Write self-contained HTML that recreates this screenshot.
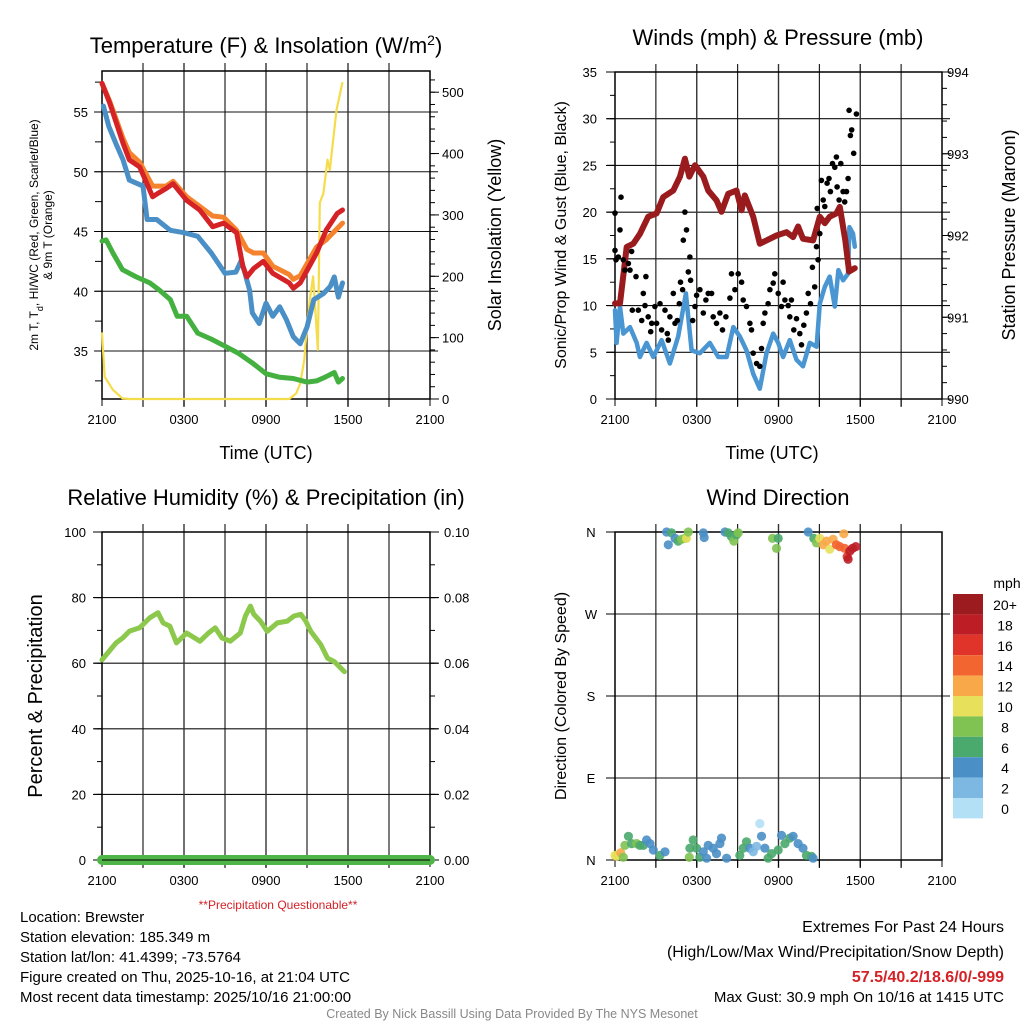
<!DOCTYPE html>
<html><head><meta charset="utf-8"><title>Brewster Meteogram</title>
<style>
html,body{margin:0;padding:0;background:#fff;}
svg{display:block;font-family:"Liberation Sans",Arial,sans-serif;}
</style></head>
<body>
<svg id="chart" width="1024" height="1024" viewBox="0 0 1024 1024" xmlns="http://www.w3.org/2000/svg">
<rect x="0" y="0" width="1024" height="1024" fill="#fff"/>
<g id="layer"></g>
</svg>
<script>
// ---------- DATA (hours since 2100 UTC) ----------
const xTickLabels = ["2100","0300","0900","1500","2100"];
// Temperature panel
const tempHours = [0,0.56,1.54,2.0,2.76,3.7,4.1,4.7,5.2,6.2,7.15,8.1,8.9,9.85,10.3,10.6,11.1,11.8,12.5,13.7,14.0,14.5,15.7,16.4,17.2,17.6];
const tempValues = [57.4,55.75,52.4,51,50.4,47.9,48.2,48.6,49.0,47.6,46.8,45.4,45.7,44.9,42.1,41.2,41.9,42.5,41.5,40.7,40.25,40.7,43.2,45.1,46.5,46.8];
const t9Hours = [0,0.56,1.54,2.0,2.76,3.7,4.7,5.2,6.2,7.15,8.1,8.9,9.85,10.6,11.1,11.8,12.5,13.7,14.0,14.5,15.7,16.4,17.6];
const t9Values = [57.4,55.9,52.8,51.6,50.8,48.8,48.8,49.2,47.9,47.1,46.3,46.2,45.1,43.5,43.2,43.2,42.1,41.4,41.0,41.3,43.7,44.3,45.7];
const hiwcHours = [0.1,0.5,1.0,1.54,2.0,3.0,3.3,4,5,6,7,8,9,9.8,10.2,10.8,11.0,11.5,12,12.5,13,13.5,14,14.5,15,15.5,16.2,16.7,17,17.3,17.6];
const hiwcValues = [55.5,53.8,52.4,51,49.3,48.8,46,46,45.1,44.9,44.6,43.2,41.5,41.6,42.6,40.1,38.2,37.3,39.0,37.9,38.7,37.6,36.2,35.6,37.0,39.3,39.8,40.4,41.2,39.5,40.7];
const dewHours = [0,0.3,0.8,1.5,2.5,3.5,4.2,5,5.5,6.2,7,8,9,10,11,12,13,14,15,15.7,16.3,17,17.3,17.6];
const dewValues = [44.2,44.3,43.2,41.8,41.2,40.7,40.1,39.3,37.9,37.9,36.5,36.0,35.4,34.8,34.0,33.1,32.8,32.7,32.4,32.5,32.8,33.2,32.4,32.7];
const solarHours = [0,0.2,0.8,1.5,2,13.7,14.2,14.5,14.8,15.0,15.2,15.45,15.8,15.94,16.2,16.5,16.67,17.16,17.58];
const solarValues = [107,36,15,1,0,0,9,25,64,120,160,200,80,320,335,390,373,471,515];
// Wind / pressure panel
const presHours = [0,0.37,0.86,1.34,1.83,2.44,3.05,3.54,4.28,4.77,5.13,5.45,5.87,6.48,6.84,7.45,7.82,8.31,8.92,9.29,9.53,10.14,10.63,11.12,11.85,12.59,13.07,13.44,13.8,14.54,15.03,15.4,15.76,16.25,16.5,16.9,17.18,17.6];
const presValues = [991.17,991.17,991.86,991.9,992.02,992.23,992.27,992.47,992.55,992.72,992.94,992.72,992.86,992.72,992.55,992.43,992.29,992.51,992.55,992.31,992.49,992.23,991.9,991.94,992.0,992.04,991.98,992.11,991.96,991.94,992.23,992.15,992.23,992.27,992.35,991.94,991.56,991.6];
const windHours = [0,0.12,0.37,0.61,1.1,1.59,1.83,2.32,2.81,3.42,4.03,4.64,5.2,5.62,6.23,6.96,7.58,8.19,8.68,9.16,9.65,10.14,10.63,11.12,11.61,11.98,12.34,12.83,13.32,13.8,14.3,14.8,15.03,15.4,15.76,16.13,16.4,16.74,17.1,17.2,17.47,17.6];
const windValues = [9.5,6.0,9.9,7.0,7.7,6.0,4.5,6.0,4.5,6.3,3.8,6.7,11.3,5.2,4.9,6.0,4.5,4.5,7.7,6.7,5.2,2.7,1.1,4.9,7.0,6.0,4.5,6.3,4.2,3.5,6.0,5.6,10.2,12.0,13.1,9.9,13.8,12.7,13.4,18.4,17.7,16.3];
const gustHours = [0,0,0.07,0.24,0.37,0.44,0.61,0.73,0.98,1.1,1.22,1.54,1.27,1.71,1.96,2.08,2.2,2.27,2.44,2.62,2.69,2.93,3.05,3.3,3.42,3.67,3.84,3.91,4.03,4.28,4.4,4.57,4.72,4.81,4.96,5.01,5.13,5.25,5.38,5.5,5.55,5.7,5.87,5.99,6.23,6.48,6.67,6.84,7.09,7.21,7.45,7.7,7.89,8.14,8.43,8.55,8.8,9.04,9.29,9.41,9.65,9.9,10.02,10.14,10.39,10.63,10.75,10.88,11.0,11.24,11.37,11.61,11.73,11.98,12.22,12.34,12.47,12.71,12.83,12.95,13.12,13.32,13.56,13.69,13.86,14.05,14.18,14.35,14.49,14.66,14.79,14.91,14.84,15.03,15.15,15.28,15.4,15.57,15.71,15.81,15.96,16.13,16.25,16.3,16.45,16.57,16.74,16.86,16.99,17.11,17.18,17.28,17.37,17.52,17.72];
const gustValues = [19.9,15.9,14.9,15.2,18.1,21.6,14.9,13.8,14.5,13.8,15.8,13.1,9.5,9.5,8.4,11.3,10.0,13.1,8.8,7.2,8.1,9.9,8.1,10.2,7.4,9.5,7.0,6.3,8.8,11.3,8.1,8.4,10.2,12.5,11.7,17.0,20.0,18.1,13.6,15.2,12.7,8.4,9.9,11.1,11.7,9.2,10.6,11.3,11.3,8.8,8.1,9.2,7.4,8.8,10.8,13.4,11.7,13.4,12.5,10.6,9.9,8.1,7.4,4.9,3.8,3.5,5.4,8.1,9.2,10.2,11.7,12.4,13.4,11.3,9.9,12.5,10.6,10.0,8.8,10.6,7.4,8.6,7.0,5.8,7.9,9.2,11.3,10.2,14.1,12.0,16.3,14.9,20.4,17.7,23.4,21.3,20.6,23.1,23.6,22.2,25.2,24.8,25.9,22.7,21.3,25.2,22.2,21.1,22.2,23.6,30.9,28.2,28.8,26.3,30.5];
// RH panel
const rhHours = [0,0.42,1.03,1.52,2.01,2.75,3.49,4.1,4.47,4.96,5.45,6.19,7.17,7.79,8.28,8.77,9.39,10.12,10.49,10.86,11.11,11.6,12.09,12.83,13.56,14.05,14.55,14.91,15.28,16.02,16.51,17.0,17.74];
const rhValues = [61.0,63.1,66.2,67.7,69.8,70.8,73.8,75.4,72.3,71.3,66.2,69.2,66.7,69.2,70.8,67.7,66.7,69.2,74.4,77.4,74.9,72.8,69.7,72.3,72.8,74.4,74.9,72.8,69.7,65.6,61.5,60.5,57.4];
const precipHours = [0,24];
const precipValues = [0,0];
// Wind direction panel
const dirHours = [3.79,3.91,4.15,4.4,4.64,4.89,5.13,5.25,5.38,6.48,6.55,8.07,8.31,8.55,8.73,8.92,9.04,11.56,11.85,11.98,14.18,14.59,14.79,15.03,15.28,15.52,15.76,16.01,16.25,16.5,16.79,16.86,17.04,17.11,17.23,17.43,17.67,
 0,0.12,0.42,0.61,0.73,0.98,1.22,1.59,1.83,2.08,2.32,2.57,2.81,3.3,3.67,5.45,5.5,5.74,5.99,6.23,6.48,6.72,6.84,7.21,7.45,7.7,7.82,8.19,9.16,9.41,9.65,9.9,10.14,10.39,10.63,10.75,11.0,11.24,11.49,11.98,12.22,12.47,12.83,13.07,13.44,13.8,14.05,14.42,14.54];
const dirValues = [360,346,359,353,350,352,353,353,360,359,354,360,359,355,350,357,359,353,342,353,360,353,348,353,346,350,341,352,346,344,358,342,333,330,339,342,344,
 5,4,8,3,16,26,18,18,16,16,22,18,11,5,9,3,13,22,13,3,9,2,16,13,7,18,24,2,5,13,20,13,9,15,40,26,13,2,7,11,27,18,24,26,18,13,5,4,2];
const dirSpeeds = [5,5,7,5,7,9,9,11,9,5,5,5,7,7,9,7,9,9,9,7,5,7,9,11,13,13,11,13,15,15,13,15,17,19,19,19,19,
 11,11,13,9,9,7,7,9,7,7,5,5,5,7,5,9,7,7,7,7,5,5,5,5,5,5,5,5,7,7,7,5,3,3,1,5,5,7,7,7,5,7,7,5,5,5,7,7,5];
const legendLabels = ["20+","18","16","14","12","10","8","6","4","2","0"];
const legendColors = ["#9b1b1e","#bd1e26","#e0342a","#f26430","#f8a848","#e6e05a","#80c352","#4aa96c","#4a8fc6","#7db8e3","#b4e0f6"];

// ---------- helpers ----------
const NS = "http://www.w3.org/2000/svg";
const layer = document.getElementById("layer");
function mk(tag, attrs, parent){
  const e = document.createElementNS(NS, tag);
  for (const k in attrs) e.setAttribute(k, attrs[k]);
  (parent||layer).appendChild(e);
  return e;
}
function txt(x,y,s,size,anchor,name,extra){
  const t = mk("text",Object.assign({x:x,y:y,"font-size":size,"text-anchor":anchor||"middle",fill:"#000"},extra||{}));
  t.textContent = s;
  
  
  return t;
}
function lin(d0,d1,r0,r1){ return v => r0 + (v-d0)/(d1-d0)*(r1-r0); }

function frame(P, pname){
  const g = mk("g",{});
  
  
  for (let h=3; h<24; h+=3){
    const x = P.x(h);
    const l = mk("line",{x1:x,x2:x,y1:P.T-8,y2:P.B+8,stroke:(h%6===0)?"#333":"#111","stroke-width":(h%6===0)?1.4:1.1},g);
    
    
  }
  xTickLabels.forEach((s,i)=>{ txt(P.x(i*6), P.B+25, s, 13, "middle", "x-tick-label"); });
  for (let h=0; h<=24; h+=3){
    const l = mk("line",{x1:P.x(h),x2:P.x(h),y1:P.B,y2:P.B+7,stroke:"#000","stroke-width":1},g);
    
    
  }
  const r = mk("rect",{x:P.L,y:P.T,width:P.R-P.L,height:P.B-P.T,fill:"none",stroke:"#000","stroke-width":1.5},g);
  
  
  return g;
}
function hgrid(P, ys, name){
  ys.forEach(y=>{
    const l = mk("line",{x1:P.L-8,x2:P.R+8,y1:y,y2:y,stroke:"#111","stroke-width":1.1});
    
    
  });
}
function ticks(x, ys, len, name){
  ys.forEach(y=>{
    const l = mk("line",{x1:x,x2:x+len,y1:y,y2:y,stroke:"#000","stroke-width":1});
    
    
  });
}
function line(hs, vs, xs, ys, color, w, name){
  const pts = hs.map((h,i)=>xs(h).toFixed(1)+","+ys(vs[i]).toFixed(1)).join(" ");
  const p = mk("polyline",{points:pts,fill:"none",stroke:color,"stroke-width":w,"stroke-linejoin":"round","stroke-linecap":"round"});
  
  
  return p;
}
function range(a,b,s){ const r=[]; for(let v=a; v<=b+1e-9; v+=s) r.push(+v.toFixed(4)); return r; }

// ---------- Panel 1: Temperature ----------
{
  const P = {L:102,T:71,R:430,B:399};
  P.x = lin(0,24,P.L,P.R);
  const yT = lin(35,55,351,112);
  const yS = lin(0,500,399,92.2);
  const tempTicks = [35,40,45,50,55];
  hgrid(P, tempTicks.map(yT), "temp-grid-line");
  frame(P,"temperature-panel");
  ticks(P.L, range(32.5,57.5,2.5).map(yT), -7, "temp-y-tick");
  ticks(P.R, range(0,520,20).map(yS), 5, "solar-y-minor-tick");
  ticks(P.R, range(0,500,100).map(yS), 9, "solar-y-tick");
  tempTicks.forEach(v=>txt(P.L-14, yT(v)+5, String(v), 13, "end", "temp-y-tick-label"));
  range(0,500,100).forEach(v=>txt(P.R+12, yS(v)+5, String(v), 13, "start", "solar-y-tick-label"));
  line(solarHours, solarValues, P.x, yS, "#f5dc4a", 2.2, "solar-insolation-line");
  line(dewHours, dewValues, P.x, yT, "#44b040", 5, "dewpoint-line");
  line(hiwcHours, hiwcValues, P.x, yT, "#4a8fc6", 5, "heat-index-windchill-line");
  line(t9Hours, t9Values, P.x, yT, "#f5832e", 5, "temp-9m-line");
  line(tempHours, tempValues, P.x, yT, "#d42227", 5, "temp-2m-line");
  const t = txt(266, 53, "Temperature (F) & Insolation (W/m", 22, "middle", "temperature-panel-title");
  const sup = document.createElementNS(NS,"tspan"); sup.setAttribute("baseline-shift","super"); sup.setAttribute("font-size","14"); sup.textContent="2"; t.appendChild(sup);
  const cl = document.createElementNS(NS,"tspan"); cl.textContent=")"; t.appendChild(cl);
  txt(266, 459, "Time (UTC)", 18, "middle", "x-axis-title");
  const yl = txt(0,0,"2m T, T", 12, "middle", "temp-y-axis-title", {transform:"translate(38,235) rotate(-90)"});
  const sub = document.createElementNS(NS,"tspan"); sub.setAttribute("baseline-shift","sub"); sub.setAttribute("font-size","9"); sub.textContent="d"; yl.appendChild(sub);
  const rest = document.createElementNS(NS,"tspan"); rest.textContent=", HI/WC (Red, Green, Scarlet/Blue)"; yl.appendChild(rest);
  txt(0,0,"& 9m T (Orange)", 12, "middle", "temp-y-axis-title-line2", {transform:"translate(52,235) rotate(-90)"});
  txt(0,0,"Solar Insolation (Yellow)", 18, "middle", "solar-y-axis-title", {transform:"translate(501,235) rotate(-90)"});
}

// ---------- Panel 2: Winds ----------
{
  const P = {L:615,T:72,R:942,B:399};
  P.x = lin(0,24,P.L,P.R);
  const yW = lin(0,35,399,72);
  const yP = lin(990,994,399,72);
  const wTicks = range(0,35,5);
  hgrid(P, wTicks.slice(1,7).map(yW), "wind-grid-line");
  frame(P,"winds-panel");
  ticks(P.L, range(0,35,2.5).map(yW), -5, "wind-y-minor-tick");
  ticks(P.L, wTicks.map(yW), -9, "wind-y-tick");
  ticks(P.R, range(990,994,0.2).map(yP), 5, "pressure-y-minor-tick");
  ticks(P.R, range(990,994,1).map(yP), 9, "pressure-y-tick");
  wTicks.forEach(v=>txt(P.L-18, yW(v)+5, String(v), 13, "end", "wind-y-tick-label"));
  range(990,994,1).forEach(v=>txt(P.R+5, yP(v)+5, String(v), 13, "start", "pressure-y-tick-label"));
  line(windHours, windValues, P.x, yW, "#4a96d2", 4.5, "wind-speed-line");
  line(presHours, presValues, P.x, yP, "#9a1b1e", 6, "pressure-line");
  gustHours.forEach((h,i)=>{
    const c = mk("circle",{cx:P.x(h).toFixed(1),cy:yW(gustValues[i]).toFixed(1),r:2.8,fill:"#000"});
    
    
  });
  txt(778, 45, "Winds (mph) & Pressure (mb)", 22, "middle", "winds-panel-title");
  txt(772, 459, "Time (UTC)", 18, "middle", "x-axis-title");
  txt(0,0,"Sonic/Prop Wind & Gust (Blue, Black)", 16, "middle", "wind-y-axis-title", {transform:"translate(566,235) rotate(-90)"});
  txt(0,0,"Station Pressure (Maroon)", 18, "middle", "pressure-y-axis-title", {transform:"translate(1015,235) rotate(-90)"});
}

// ---------- Panel 3: RH ----------
{
  const P = {L:102,T:532,R:430,B:860};
  P.x = lin(0,24,P.L,P.R);
  const yR = lin(0,100,860,532);
  const yQ = lin(0,0.10,860,532);
  const rTicks = range(0,100,20);
  hgrid(P, rTicks.slice(1,5).map(yR), "rh-grid-line");
  frame(P,"humidity-panel");
  ticks(P.L, range(0,100,10).map(yR), -5, "rh-y-minor-tick");
  ticks(P.L, rTicks.map(yR), -9, "rh-y-tick");
  ticks(P.R, range(0,0.10,0.01).map(yQ), 5, "precip-y-minor-tick");
  ticks(P.R, range(0,0.10,0.02).map(yQ), 9, "precip-y-tick");
  rTicks.forEach(v=>txt(P.L-16, yR(v)+5, String(v), 13, "end", "rh-y-tick-label"));
  range(0,0.10,0.02).forEach(v=>txt(P.R+14, yQ(v)+5, v.toFixed(2), 13, "start", "precip-y-tick-label"));
  line(precipHours, precipValues, P.x, yQ, "#4fb548", 10, "precipitation-line");
  const z = mk("line",{x1:P.L,x2:P.R,y1:yQ(0),y2:yQ(0),stroke:"#000","stroke-width":1});
  
  
  line(rhHours, rhValues, P.x, yR, "#8cc84b", 5, "relative-humidity-line");
  txt(266, 505, "Relative Humidity (%) & Precipitation (in)", 22, "middle", "humidity-panel-title");
  txt(278, 909, "**Precipitation Questionable**", 12, "middle", "precip-warning", {fill:"#d42227"});
  txt(0,0,"Percent & Precipitation", 20, "middle", "rh-y-axis-title", {transform:"translate(42,696) rotate(-90)"});
}

// ---------- Panel 4: Wind direction ----------
{
  const P = {L:615,T:532,R:942,B:860};
  P.x = lin(0,24,P.L,P.R);
  const yD = lin(0,360,860,532);
  const dTicks = [0,90,180,270,360];
  const dLabels = ["N","E","S","W","N"];
  hgrid(P, dTicks.slice(1,4).map(yD), "direction-grid-line");
  frame(P,"direction-panel");
  ticks(P.L, dTicks.map(yD), -9, "direction-y-tick");
  dTicks.forEach((v,i)=>txt(P.L-24, yD(v)+5, dLabels[i], 13, "middle", "direction-tick-label"));
  const colorFor = s => legendColors[10 - Math.min(10, Math.floor(s/2))];
  dirHours.forEach((h,i)=>{
    const c = mk("circle",{cx:P.x(h).toFixed(1),cy:yD(dirValues[i]).toFixed(1),r:4.6,fill:colorFor(dirSpeeds[i]),"fill-opacity":0.9});
    
    
  });
  txt(778, 505, "Wind Direction", 22, "middle", "direction-panel-title");
  txt(0,0,"Direction (Colored By Speed)", 16, "middle", "direction-y-axis-title", {transform:"translate(566,696) rotate(-90)"});
  txt(1007, 588, "mph", 14, "middle", "legend-title");
  legendLabels.forEach((s,i)=>{
    const y = 594 + i*20.4;
    const r = mk("rect",{x:953,y:y,width:30,height:20.4,fill:legendColors[i]});
    
    
    txt(1005, y+16, s, 14, "middle", "legend-label");
  });
}

// ---------- Footer text ----------
["Location: Brewster","Station elevation: 185.349 m","Station lat/lon: 41.4399; -73.5764","Figure created on Thu, 2025-10-16, at 21:04 UTC","Most recent data timestamp: 2025/10/16 21:00:00"]
  .forEach((s,i)=>txt(20, 922+i*20, s, 15, "start", "station-info-line"));
txt(1004, 932, "Extremes For Past 24 Hours", 16, "end", "extremes-title");
txt(1004, 957, "(High/Low/Max Wind/Precipitation/Snow Depth)", 16, "end", "extremes-subtitle");
txt(1004, 982, "57.5/40.2/18.6/0/-999", 16, "end", "extremes-values", {fill:"#d42227","font-weight":"bold"});
txt(1004, 1002, "Max Gust: 30.9 mph On 10/16 at 1415 UTC", 15, "end", "max-gust");
txt(512, 1018, "Created By Nick Bassill Using Data Provided By The NYS Mesonet", 12.5, "middle", "credits", {fill:"#888"});
</script>
</body></html>
